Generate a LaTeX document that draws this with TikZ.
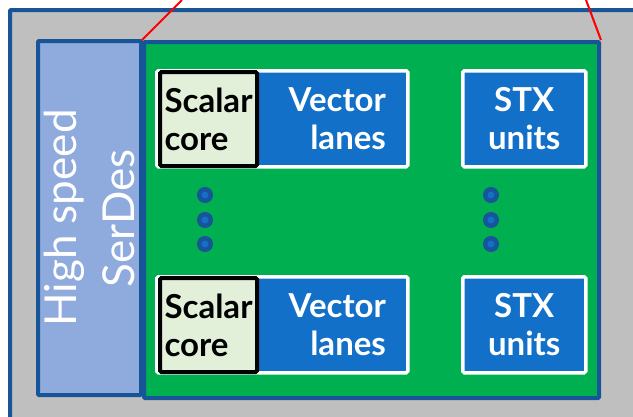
\documentclass[tikz,border=0pt]{standalone}
\usepackage{fontspec}
\setmainfont{Lato}
\usetikzlibrary{positioning}
\definecolor{chipgray}{RGB}{191,191,191}
\definecolor{edgeblue}{RGB}{24,84,152}
\definecolor{serdesblue}{RGB}{143,170,220}
\definecolor{tilegreen}{RGB}{0,176,80}
\definecolor{lanesblue}{RGB}{18,112,200}
\definecolor{scalarfill}{RGB}{226,240,217}
\tikzset{
  frame/.style={draw=edgeblue, line width=4pt, rounded corners=1pt},
  unitbox/.style={draw=white, fill=lanesblue, line width=3.5pt, rounded corners=1.5pt,
    inner sep=0pt, anchor=north west},
  scalarbox/.style={draw=black, fill=scalarfill, line width=4pt, rounded corners=1.5pt,
    inner sep=0pt, anchor=north west, align=left, font=\bfseries\fontsize{33}{38}\selectfont},
  unittext/.style={text=white, font=\bfseries\fontsize{33}{38}\selectfont},
  dot/.style={circle, draw=edgeblue, fill=lanesblue, line width=4.5pt,
    minimum size=11.5pt, inner sep=0pt}
}

\begin{document}
\begin{tikzpicture}[x=1pt, y=-1pt]
    \useasboundingbox (0,0) rectangle (633,416);
    \clip (0,0) rectangle (633,416);

    % chip outline
    \draw[frame, fill=chipgray] (10,10) rectangle (660,440);

    % SerDes strip
    \node[frame, fill=serdesblue, inner sep=0pt, anchor=north west,
          minimum width=103pt, minimum height=354pt] (serdes) at (36,39) {};
    \node[rotate=90, text=white, align=center,
          font=\fontsize{44}{58}\selectfont] (serdestext) at (serdes.center) {High speed\\SerDes};

    % tile array
    \node[frame, fill=tilegreen, inner sep=0pt, anchor=north west,
          minimum width=455pt, minimum height=356pt] (tile) at (142,40) {};
    \coordinate (zoomL) at (182,0);
    \coordinate (zoomR) at (586,0);
    \draw[red, line width=2pt] (tile.north west) -- (zoomL);
    \draw[red, line width=2pt] (tile.north east) -- (zoomR);

    % the two rows of cores
    \foreach \top/\n in {69/a, 275/b} {
        \node[unitbox, minimum width=251pt, minimum height=96pt] (vec\n) at (155,\top) {};
        \node[unittext, align=right, anchor=east] (vectext\n) at ([xshift=-20pt]vec\n.east) {Vector\\lanes};
        \node[scalarbox, minimum width=97pt, minimum height=94pt] (scal\n) at (158,\top+1) {Scalar\\core};
        \node[unitbox, unittext, align=center, minimum width=123pt, minimum height=96pt] (stx\n) at (461,\top) {STX\\units};
    }

    % ellipsis dots
    \foreach \y/\k in {195/1, 220/2, 244/3} {
        \node[dot] (dotL\k) at (205,\y) {};
        \node[dot] (dotR\k) at (491,\y) {};
    }
\end{tikzpicture}
\end{document}
